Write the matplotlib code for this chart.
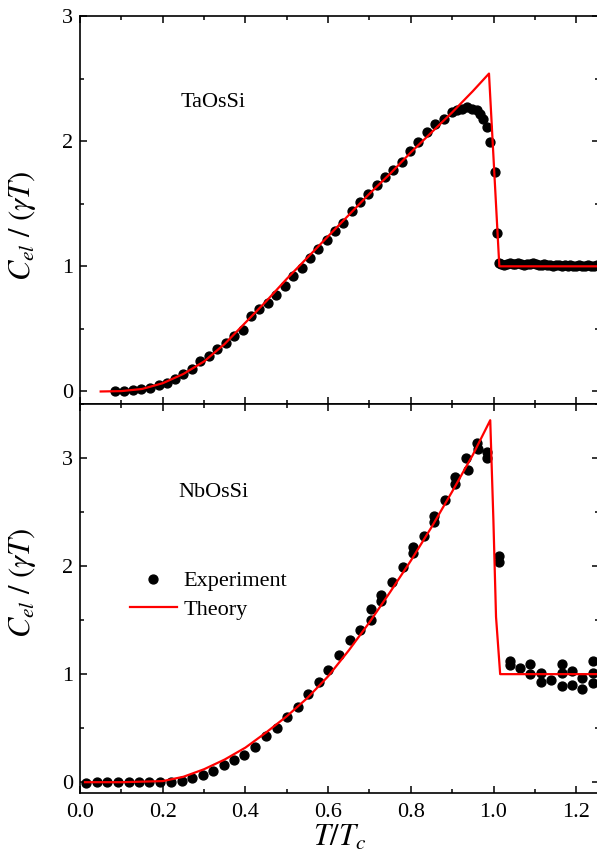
import matplotlib
matplotlib.use("Agg")
import matplotlib.pyplot as plt
from matplotlib.ticker import MultipleLocator

plt.rcParams['font.family'] = ['Liberation Serif', 'DejaVu Serif']
plt.rcParams['mathtext.fontset'] = 'stix'

# ---------------- data: TaOsSi (top panel) ----------------
ta_exp_t = [0.085, 0.106, 0.127, 0.148, 0.169, 0.19, 0.21, 0.23, 0.25, 0.27,
            0.291, 0.312, 0.332, 0.353, 0.373, 0.393, 0.414, 0.434, 0.454, 0.475,
            0.496, 0.516, 0.536, 0.556, 0.576, 0.597, 0.617, 0.637, 0.657, 0.677,
            0.697, 0.718, 0.738, 0.758, 0.778, 0.798, 0.818, 0.838, 0.859, 0.879,
            0.899, 0.911, 0.923, 0.935, 0.947, 0.959, 0.967, 0.975, 0.983, 0.992,
            1.003, 1.008, 1.013,
            1.018, 1.025, 1.032, 1.039, 1.046, 1.053, 1.060, 1.067, 1.074, 1.081,
            1.088, 1.095, 1.102, 1.109, 1.116, 1.123, 1.130, 1.137, 1.144, 1.151,
            1.158, 1.165, 1.172, 1.179, 1.186, 1.193, 1.200, 1.207, 1.214, 1.221,
            1.228, 1.235, 1.242, 1.249]
ta_exp_c = [0.0, 0.005, 0.01, 0.02, 0.03, 0.05, 0.07, 0.10, 0.14, 0.18,
            0.24, 0.28, 0.34, 0.39, 0.44, 0.49, 0.60, 0.66, 0.71, 0.77,
            0.84, 0.92, 0.99, 1.07, 1.14, 1.21, 1.28, 1.35, 1.44, 1.51,
            1.58, 1.65, 1.71, 1.77, 1.83, 1.92, 1.99, 2.07, 2.14, 2.18,
            2.23, 2.25, 2.26, 2.27, 2.26, 2.25, 2.22, 2.18, 2.11, 1.99,
            1.75, 1.27, 1.03,
            1.02, 1.01, 1.02, 1.03, 1.02, 1.02, 1.03, 1.02, 1.01, 1.02,
            1.02, 1.03, 1.02, 1.01, 1.01, 1.02, 1.01, 1.01, 1.00, 1.01,
            1.01, 1.00, 1.01, 1.00, 1.01, 1.00, 1.00, 1.01, 1.00, 1.00,
            1.01, 1.00, 1.00, 1.01]
ta_th_t = [0.05, 0.1, 0.15, 0.2, 0.25, 0.3, 0.35, 0.4, 0.45, 0.5, 0.55, 0.6,
           0.65, 0.7, 0.75, 0.8, 0.85, 0.9, 0.95, 0.989, 1.014, 1.26]
ta_th_c = [0.0, 0.003, 0.02, 0.066, 0.14, 0.24, 0.38, 0.55, 0.72, 0.90, 1.07,
           1.24, 1.41, 1.58, 1.74, 1.91, 2.07, 2.23, 2.40, 2.54, 1.0, 1.0]

# ---------------- data: NbOsSi (bottom panel) ----------------
nb_exp_t = [0.0145, 0.040, 0.066, 0.093, 0.118, 0.143, 0.168, 0.193, 0.219, 0.246,
            0.271, 0.297, 0.321, 0.347, 0.372, 0.397, 0.422, 0.449, 0.476, 0.50,
            0.526, 0.552, 0.577, 0.60, 0.627, 0.653, 0.677, 0.704, 0.704, 0.729,
            0.729, 0.755, 0.781, 0.806, 0.806, 0.831, 0.857, 0.857, 0.882, 0.908,
            0.908, 0.934, 0.938, 0.959, 0.962, 0.985, 0.985, 1.012, 1.012,
            1.039, 1.039, 1.063, 1.088, 1.088, 1.114, 1.114, 1.14, 1.165, 1.165,
            1.165, 1.19, 1.19, 1.215, 1.215, 1.24, 1.24, 1.24]
nb_exp_c = [-0.01, 0.0, 0.0, 0.0, 0.0, 0.0, 0.0, 0.0, 0.0, 0.01,
            0.035, 0.065, 0.10, 0.155, 0.21, 0.255, 0.33, 0.425, 0.50, 0.60,
            0.70, 0.82, 0.93, 1.04, 1.18, 1.32, 1.41, 1.50, 1.60, 1.68,
            1.73, 1.85, 1.99, 2.12, 2.18, 2.28, 2.41, 2.46, 2.61, 2.76,
            2.82, 3.00, 2.89, 3.14, 3.08, 3.06, 3.00, 2.09, 2.04,
            1.12, 1.08, 1.06, 1.09, 1.00, 1.01, 0.93, 0.95, 1.09, 1.01,
            0.89, 1.03, 0.90, 0.96, 0.86, 1.12, 1.01, 0.92]
nb_th_t = [0.012, 0.1, 0.2, 0.25, 0.3, 0.35, 0.4, 0.45, 0.5, 0.55, 0.6, 0.65,
           0.7, 0.75, 0.8, 0.85, 0.9, 0.95, 0.992, 0.9996, 1.006, 1.016, 1.26]
nb_th_c = [0.0, 0.0, 0.01, 0.05, 0.12, 0.21, 0.32, 0.46, 0.61, 0.78, 0.98, 1.22,
           1.48, 1.76, 2.05, 2.36, 2.69, 3.03, 3.35, 2.43, 1.53, 1.0, 1.0]

x_ticks = [0.0, 0.2, 0.4, 0.6, 0.8, 1.0, 1.2]
x_tick_labels = ['0.0', '0.2', '0.4', '0.6', '0.8', '1.0', '1.2']
y_ticks = [0, 1, 2, 3]

W, H = 597, 852
fig = plt.figure(figsize=(W / 100, H / 100), dpi=100)

left = 80 / W
width = 519 / W
ax1 = fig.add_axes([left, 1 - 404 / H, width, 388 / H])
ax2 = fig.add_axes([left, 1 - 793 / H, width, 389 / H])

fs_tick = 16
fs_label = 22

for ax in (ax1, ax2):
    ax.set_xlim(0, 1.255)
    ax.xaxis.set_major_locator(MultipleLocator(0.2))
    ax.xaxis.set_minor_locator(MultipleLocator(0.1))
    ax.yaxis.set_major_locator(MultipleLocator(1))
    ax.yaxis.set_minor_locator(MultipleLocator(0.5))
    ax.tick_params(which='both', direction='in', top=True, right=True,
                   width=1.1, labelsize=fs_tick)
    ax.tick_params(which='major', length=5)
    ax.tick_params(which='minor', length=3)
    ax.tick_params(axis='y', pad=5)
    ax.tick_params(axis='x', pad=7)
    for s in ax.spines.values():
        s.set_linewidth(1.2)

# top panel
ax1.set_ylim(-0.1, 3.0)
ax1.set_yticks(y_ticks)
ax1.set_yticklabels([str(v) for v in y_ticks])
ax1.set_xticks(x_ticks)
ax1.tick_params(axis='x', labelbottom=False)
ax1.plot(ta_exp_t, ta_exp_c, 'o', color='black', markersize=6.4, zorder=2)
ax1.plot(ta_th_t, ta_th_c, '-', color='red', linewidth=1.6, zorder=3)
ax1.text(0.242, 2.31, 'TaOsSi', fontsize=fs_tick, va='center', ha='left')
ax1.set_ylabel(r'$C_{el}\ /\ (\gamma T)$', fontsize=fs_label)
ax1.yaxis.set_label_coords(-0.08, 0.46)

# bottom panel
ax2.set_ylim(-0.1, 3.5)
ax2.set_yticks(y_ticks)
ax2.set_yticklabels([str(v) for v in y_ticks])
ax2.set_xticks(x_ticks)
ax2.set_xticklabels(x_tick_labels)
ax2.plot(nb_exp_t, nb_exp_c, 'o', color='black', markersize=6.4, zorder=2,
         label='Experiment')
ax2.plot(nb_th_t, nb_th_c, '-', color='red', linewidth=1.6, zorder=3,
         label='Theory')
ax2.text(0.237, 2.68, 'NbOsSi', fontsize=fs_tick, va='center', ha='left')
ax2.set_ylabel(r'$C_{el}\ /\ (\gamma T)$', fontsize=fs_label)
ax2.yaxis.set_label_coords(-0.08, 0.54)
ax2.set_xlabel(r'$T/T_c$', fontsize=fs_label)
ax2.xaxis.set_label_coords(0.5, -0.078)

ax2.legend(loc='center left', bbox_to_anchor=(0.079, 0.508), frameon=False,
           fontsize=fs_tick, handlelength=2.1, handletextpad=0.3,
           labelspacing=0.35, borderaxespad=0, borderpad=0.4)

fig.savefig('out.png', dpi=100)
